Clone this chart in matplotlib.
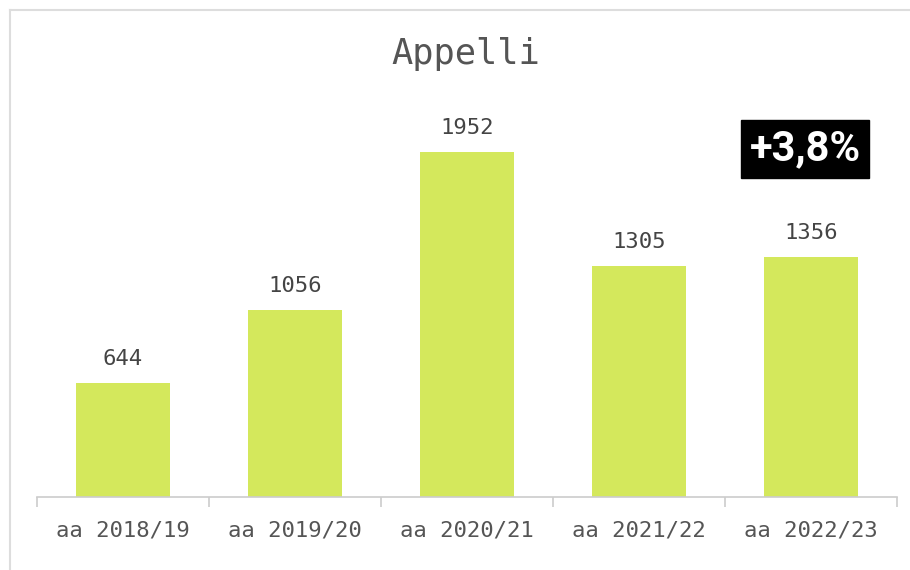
import matplotlib
matplotlib.use("Agg")
import matplotlib.pyplot as plt
from matplotlib.lines import Line2D

categories = ["aa 2018/19", "aa 2019/20", "aa 2020/21", "aa 2021/22", "aa 2022/23"]
values = [644, 1056, 1952, 1305, 1356]
title = "Appelli"
badge = "+3,8%"

W, H = 910, 570
fig = plt.figure(figsize=(W / 100, H / 100), dpi=100)
fig.patch.set_facecolor("white")

mono = ["DejaVu Sans Mono"]
ax_left, ax_right = 37 / W, 897 / W
ax_bottom, ax_top = (H - 497) / H, (H - 100) / H
ax = fig.add_axes([ax_left, ax_bottom, ax_right - ax_left, ax_top - ax_bottom])

x = list(range(len(categories)))
ax.bar(x, values, width=0.55, color="#d4e85c", zorder=2)
ax.set_xlim(-0.5, len(categories) - 0.5)
ax.set_ylim(0, 397 / (345 / 1952))

for xi, v in zip(x, values):
    ax.annotate(str(v), (xi, v), xytext=(0, 10), textcoords="offset points",
                ha="center", va="bottom", fontsize=16, family=mono, color="#444444")

for s in ["top", "right", "left"]:
    ax.spines[s].set_visible(False)
ax.spines["bottom"].set_color("#cccccc")
ax.spines["bottom"].set_linewidth(1.2)
ax.set_yticks([])
ax.set_xticks([i - 0.5 for i in range(len(categories) + 1)], minor=False)
ax.set_xticklabels([""] * (len(categories) + 1))
ax.tick_params(axis="x", length=7, color="#cccccc", width=1.2)
for xi, c in zip(x, categories):
    ax.text(xi, -33 / 397, c, transform=ax.get_xaxis_transform(), ha="center", va="center",
            fontsize=16, family=mono, color="#555555")

fig.text(466 / W, 1 - 54 / H, title, ha="center", va="center", fontsize=25.5,
         family=mono, color="#555555")

fig.text(805 / W, 1 - 149 / H, badge, ha="center", va="center", fontsize=30,
         family=["Roboto", "DejaVu Sans"], fontweight="bold", color="white",
         bbox=dict(boxstyle="square,pad=0.2", facecolor="black", edgecolor="black"))

# frame lines
fig.add_artist(Line2D([10 / W, 10 / W], [0, 1 - 10 / H], color="#dddddd", lw=1.5))
fig.add_artist(Line2D([10 / W, 1], [1 - 10 / H, 1 - 10 / H], color="#dddddd", lw=1.5))

fig.savefig("out.png", dpi=100)
